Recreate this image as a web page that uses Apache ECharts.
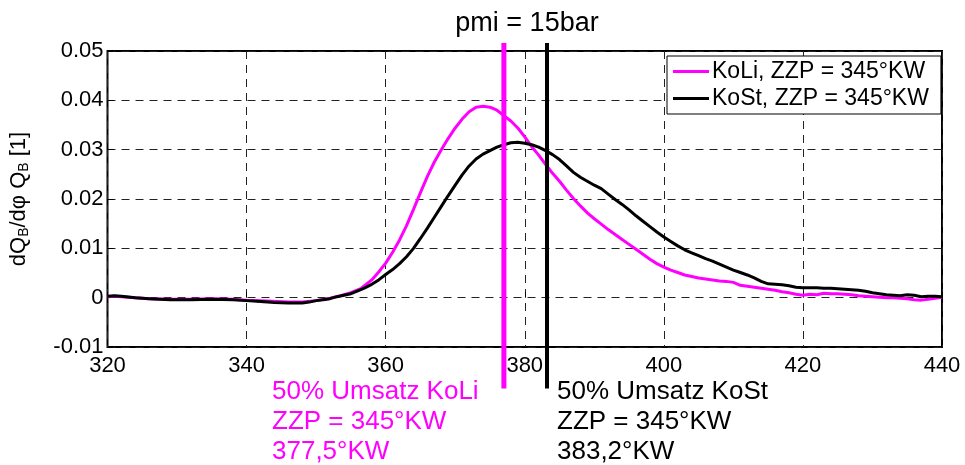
<!DOCTYPE html>
<html>
<head>
<meta charset="utf-8">
<script src="https://cdn.jsdelivr.net/npm/echarts@6/dist/echarts.min.js"></script>
<style>html,body{margin:0;padding:0;background:#fff}#c{width:965px;height:465px}</style>
</head>
<body>
<div id="c"></div>
<script>
// ---- data ----
var koliX = [320,321,323,326,329,332,335,338,340,343,346,348,350,352,353.5,355,356.5,358,359,360,361,362,363,364,365,366,367,368,369,370,371,372,373,374,375,376,377,378,379,380,381,382,383,384,385,386,387,388,389,390,391,392,393,394,395,396,397,398,399,400,401,402,403,404,405,406,407,408,409,410,411,412,413,414,415,416,417,418,419,420,421,422,423,424,425,426,427,428,429,430,431,432,433,434,435,436,437,438,439,440];
var koliY = [0.0002,0.0003,0.0001,-0.0002,-0.0003,-0.0003,-0.0002,-0.0003,-0.0005,-0.0007,-0.0009,-0.0009,-0.0006,-0.0001,0.0004,0.0010,0.0019,0.0036,0.0052,0.0070,0.0092,0.0117,0.0146,0.0179,0.0213,0.0246,0.0275,0.0300,0.0323,0.0344,0.0362,0.0377,0.0386,0.0388,0.0386,0.0380,0.0369,0.0358,0.0344,0.0326,0.0306,0.0289,0.0270,0.0252,0.0236,0.0218,0.0201,0.0186,0.0172,0.0160,0.0149,0.0138,0.0128,0.0118,0.0108,0.0098,0.0088,0.0078,0.0069,0.0062,0.0056,0.0051,0.0046,0.0043,0.0040,0.0038,0.0036,0.0034,0.0033,0.0031,0.0025,0.0023,0.0021,0.0019,0.0017,0.0015,0.0012,0.0010,0.0007,0.0005,0.0007,0.0006,0.0009,0.0008,0.0008,0.0007,0.0006,0.0004,0.0003,0.0002,0.0001,0.0000,0.0000,-0.0001,-0.0002,-0.0004,-0.0005,-0.0003,-0.0001,0.0001];
var kostX = [320,321,322,324,326,329,332,335,338,340,342,344,346,348,349,350,351,352,353,354,355,356,357,358,359,360,361,362,363,364,365,366,367,368,369,370,371,372,373,374,375,376,377,378,379,380,381,382,383,384,385,386,387,388,389,390,391,392,393,394,395,396,397,398,399,400,401,402,403,404,405,406,407,408,409,410,411,412,413,414,415,416,417,418,419,420,421,422,423,424,425,426,427,428,429,430,431,432,433,434,435,436,437,438,439,440];
var kostY = [0.0003,0.0004,0.0003,0.0000,-0.0002,-0.0004,-0.0004,-0.0003,-0.0004,-0.0006,-0.0008,-0.0010,-0.0011,-0.0011,-0.0009,-0.0006,-0.0004,-0.0002,0.0002,0.0005,0.0008,0.0014,0.0020,0.0027,0.0036,0.0047,0.0057,0.0069,0.0083,0.0100,0.0120,0.0141,0.0163,0.0185,0.0207,0.0228,0.0249,0.0267,0.0281,0.0291,0.0298,0.0305,0.0310,0.0314,0.0315,0.0313,0.0310,0.0305,0.0298,0.0290,0.0280,0.0267,0.0254,0.0244,0.0236,0.0228,0.0221,0.0210,0.0199,0.0189,0.0178,0.0166,0.0155,0.0144,0.0133,0.0123,0.0114,0.0105,0.0097,0.0091,0.0085,0.0079,0.0074,0.0068,0.0062,0.0056,0.0051,0.0046,0.0040,0.0033,0.0028,0.0027,0.0026,0.0024,0.0021,0.0020,0.0020,0.0020,0.0019,0.0019,0.0018,0.0017,0.0016,0.0015,0.0013,0.0010,0.0008,0.0006,0.0005,0.0004,0.0006,0.0005,0.0002,0.0003,0.0003,0.0002];
var seriesNames = ['KoLi, ZZP = 345°KW', 'KoSt, ZZP = 345°KW'];
var seriesColors = ['#ff00ff', '#000000'];
// 50% conversion markers: x position, vertical extent (y values)
var markerX = [377.0, 383.2];
var markerSpan = [0.0516, -0.0184];
var markerText = [
  ['50% Umsatz KoLi', 'ZZP = 345°KW', '377,5°KW'],
  ['50% Umsatz KoSt', 'ZZP = 345°KW', '383,2°KW']
];
var titleText = 'pmi = 15bar';
var xMin = 320, xMax = 440, xStep = 20;
var yMin = -0.01, yMax = 0.05, yStep = 0.01;

function pairs(xs, ys){ return xs.map(function(x,i){ return [x, ys[i]]; }); }

var FONT = '"Liberation Sans", Arial, sans-serif';
var chart = echarts.init(document.getElementById('c'), null, {renderer:'canvas'});
var axisCommon = {
  axisLine: {show:false},
  axisTick: {show:true, inside:true, length:6, lineStyle:{color:'#000', width:1}},
  splitLine: {show:true, lineStyle:{color:'#222', width:1, type:[8,6]}},
  axisLabel: {color:'#000', fontSize:22, fontFamily:FONT}
};
chart.setOption({
  animation:false,
  backgroundColor:'#fff',
  title: {text:titleText, left:522, top:5, textAlign:'center',
    textStyle:{fontSize:27, fontWeight:'normal', color:'#000', fontFamily:FONT}},
  grid: {left:104, right:23, top:51, bottom:118, show:true, borderColor:'#000', borderWidth:2, backgroundColor:'transparent'},
  legend: {
    orient:'vertical', left:667, top:56, padding:[4,12,4,6], itemGap:4,
    itemWidth:36, itemHeight:14,
    backgroundColor:'#fff', borderColor:'#000', borderWidth:1, borderRadius:0,
    textStyle:{fontSize:23, color:'#000', fontFamily:FONT, padding:[0,0,0,-2]},
    data: seriesNames.map(function(n){ return {name:n, icon:'path://M0,6 L36,6 L36,9 L0,9 Z'}; })
  },
  xAxis: Object.assign({}, axisCommon, {
    type:'value', min:xMin, max:xMax, interval:xStep,
    axisLabel: Object.assign({}, axisCommon.axisLabel, {margin:8})
  }),
  yAxis: Object.assign({}, axisCommon, {
    type:'value', min:yMin, max:yMax, interval:yStep,
    axisLabel: Object.assign({}, axisCommon.axisLabel, {margin:4, formatter:function(v){ return v===0 ? '0' : v.toFixed(2); }}),
    name:'dQ{s|B}/dφ Q{s|B} [1]', nameLocation:'middle', nameRotate:90, nameGap:76,
    nameTextStyle:{fontSize:22, color:'#000', fontFamily:FONT,
      rich:{s:{fontSize:14, fontFamily:FONT, color:'#000', padding:[11,0,0,0]}}}
  }),
  series: [
    {name:seriesNames[0], type:'line', data:pairs(koliX, koliY), showSymbol:false, symbol:'none',
     lineStyle:{color:seriesColors[0], width:3}, itemStyle:{color:seriesColors[0]}, z:3},
    {name:seriesNames[1], type:'line', data:pairs(kostX, kostY), showSymbol:false, symbol:'none',
     lineStyle:{color:seriesColors[1], width:3}, itemStyle:{color:seriesColors[1]}, z:4},
    {type:'custom', clip:false, z:5, silent:true,
     data: markerX.map(function(x,i){ return [x, markerSpan[0], markerSpan[1], i]; }),
     renderItem:function(params, api){
       var x = api.value(0);
       var p1 = api.coord([x, api.value(1)]);
       var p2 = api.coord([x, api.value(2)]);
       var i = api.value(3);
       return {type:'line', shape:{x1:p1[0], y1:p1[1], x2:p2[0], y2:p2[1]},
         style:{stroke:seriesColors[i], lineWidth:i===0?5:4}};
     }}
  ],
  graphic: [
    {type:'text', left:272, top:377, style:{text:markerText[0].join('\n'), fill:seriesColors[0], fontSize:26, lineHeight:30, fontFamily:FONT}},
    {type:'text', left:557, top:377, style:{text:markerText[1].join('\n'), fill:seriesColors[1], fontSize:26, lineHeight:30, fontFamily:FONT}}
  ]
});
</script>
</body>
</html>
